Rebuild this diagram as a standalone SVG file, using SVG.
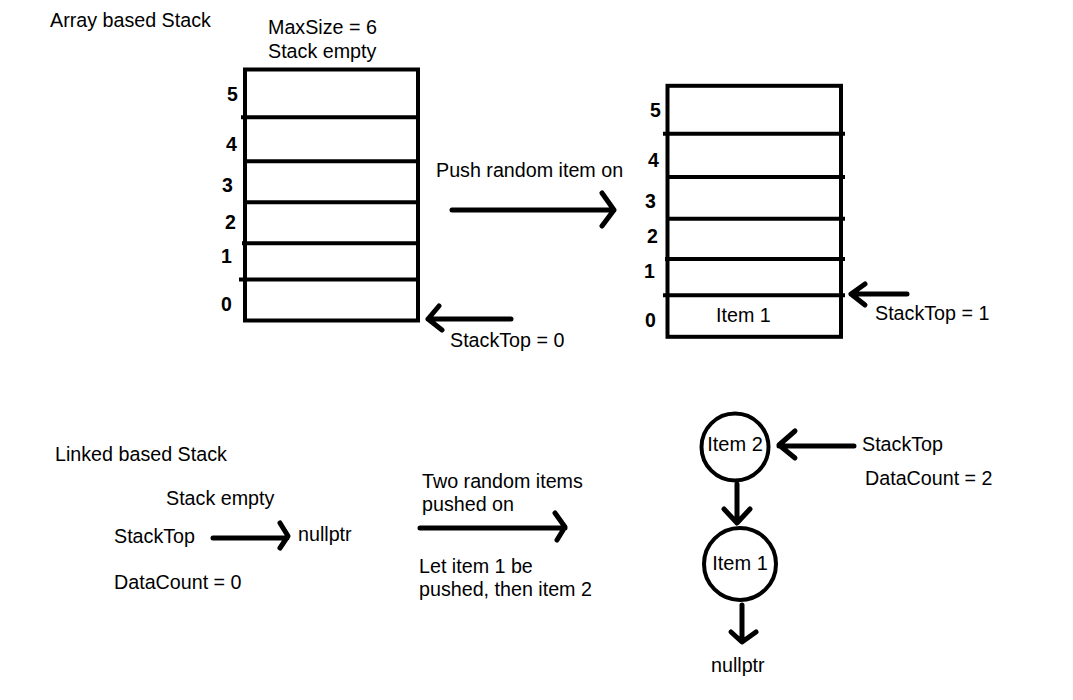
<svg xmlns="http://www.w3.org/2000/svg" width="1073" height="700" viewBox="0 0 1073 700">
<style>
.t{font-family:"Liberation Sans",Arial,sans-serif;font-size:19.7px;fill:#000}
.c{font-family:"Liberation Sans",Arial,sans-serif;font-size:20px;fill:#000}
.n{font-family:"Liberation Sans",Arial,sans-serif;font-size:19.5px;font-weight:bold;fill:#000}
.box{fill:none;stroke:#000;stroke-width:4}
.div{stroke:#000;stroke-width:4}
.arr{fill:none;stroke:#000;stroke-width:5;stroke-linecap:round;stroke-linejoin:round}
.node{fill:#fff;stroke:#000;stroke-width:4}
</style>
<rect width="1073" height="700" fill="#fff"/>
<g id="titles">
<text class="t" x="50" y="27">Array based Stack</text>
<text class="t" x="268" y="34">MaxSize = 6</text>
<text class="t" x="268" y="58">Stack empty</text>
<text class="t" x="55" y="461">Linked based Stack</text>
</g>
<g id="array-stack-empty">
<rect class="box" x="245" y="69.5" width="173" height="251"/>
<line class="div" x1="241" y1="117.3" x2="418" y2="117.3"/>
<line class="div" x1="245" y1="161.2" x2="418" y2="161.2"/>
<line class="div" x1="245" y1="202.3" x2="418" y2="202.3"/>
<line class="div" x1="242" y1="243.3" x2="418" y2="243.3"/>
<line class="div" x1="239" y1="279.5" x2="418" y2="279.5"/>
<text class="n" x="227" y="101">5</text>
<text class="n" x="226" y="151">4</text>
<text class="n" x="222" y="192">3</text>
<text class="n" x="225" y="229">2</text>
<text class="n" x="221" y="263">1</text>
<text class="n" x="221" y="311">0</text>
</g>
<g id="array-stack-one">
<rect class="box" x="667.5" y="85.8" width="173.5" height="251"/>
<line class="div" x1="663" y1="133.7" x2="845" y2="133.7"/>
<line class="div" x1="667" y1="177" x2="845" y2="177"/>
<line class="div" x1="667" y1="218.7" x2="845" y2="218.7"/>
<line class="div" x1="665" y1="259" x2="845" y2="259"/>
<line class="div" x1="663" y1="295.3" x2="845" y2="295.3"/>
<text class="n" x="650" y="117">5</text>
<text class="n" x="648" y="167">4</text>
<text class="n" x="645" y="208">3</text>
<text class="n" x="647" y="243">2</text>
<text class="n" x="644" y="278">1</text>
<text class="n" x="645" y="327">0</text>
<text class="t" x="716" y="322">Item 1</text>
</g>
<g id="labels">
<text class="t" x="436" y="177">Push random item on</text>
<text class="t" x="450" y="347">StackTop = 0</text>
<text class="t" x="875" y="320">StackTop = 1</text>
<text class="t" x="166" y="505">Stack empty</text>
<text class="t" x="114" y="543">StackTop</text>
<text class="t" x="298" y="541">nullptr</text>
<text class="t" x="114" y="589">DataCount = 0</text>
<text class="t" x="422" y="488">Two random items</text>
<text class="t" x="422" y="511">pushed on</text>
<text class="t" x="419" y="573">Let item 1 be</text>
<text class="t" x="419" y="596">pushed, then item 2</text>
<text class="t" x="862" y="451">StackTop</text>
<text class="t" x="865" y="485">DataCount = 2</text>
<text class="t" x="711" y="672">nullptr</text>
</g>
<g id="node-item2">
<circle class="node" cx="735" cy="447" r="33.5"/>
<text class="c" x="735" y="451" text-anchor="middle">Item 2</text>
</g>
<g id="node-item1">
<circle class="node" cx="740" cy="564" r="36"/>
<text class="c" x="740" y="570" text-anchor="middle">Item 1</text>
</g>
<g id="connectors">
<path class="arr" d="M452 210 H614 M602 193 L614 210 L602 226"/>
<path class="arr" d="M511 319 H428 M439 306 L428 319 L442 330"/>
<path class="arr" d="M907 294 H851 M865 284 L851 294 L865 305"/>
<path class="arr" d="M213 538 H287 M280 523 L288 536 L280 548"/>
<path class="arr" d="M420 528 H565 M555 513 L565 527 L557 540"/>
<path class="arr" d="M854 446 H779 M795 431 L779 445 L795 458"/>
<path class="arr" d="M737 484 V522 M724 509 L737 523 L750 509"/>
<path class="arr" d="M742 605 V641 M731 632 L742 642 L756 632"/>
</g>
</svg>
